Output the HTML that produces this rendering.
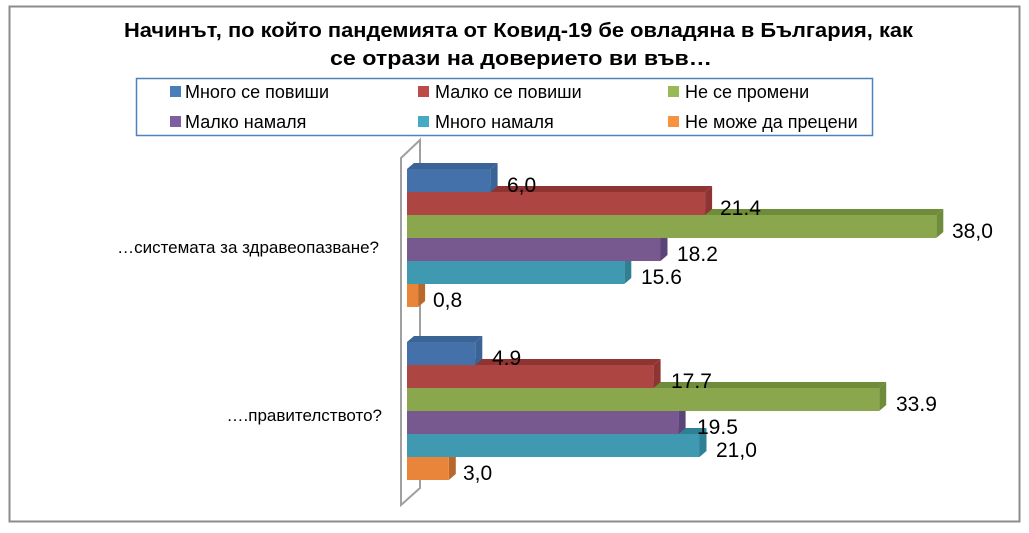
<!DOCTYPE html>
<html><head><meta charset="utf-8"><style>
body{margin:0;background:#fff;}
svg{display:block;font-family:"Liberation Sans","DejaVu Sans",sans-serif;}
</style></head><body>
<svg width="1029" height="533" viewBox="0 0 1029 533">
<rect x="9.5" y="6.5" width="1010" height="515" fill="#fff" stroke="#8c8c8c" stroke-width="2"/>
<g font-weight="bold" font-size="20" fill="#000">
<text x="124" y="37" textLength="789" lengthAdjust="spacingAndGlyphs">Начинът, по който пандемията от Ковид-19 бе овладяна в България, как</text>
<text x="330" y="65" textLength="382" lengthAdjust="spacingAndGlyphs">се отрази на доверието ви във…</text>
</g>
<rect x="136.5" y="78.5" width="736" height="57" fill="#fff" stroke="#4f81bd" stroke-width="1.5"/>
<g font-size="18" fill="#000">
<rect x="170" y="86" width="11" height="11" fill="#4a7ebb"/><text x="185" y="98">Много се повиши</text>
<rect x="418" y="86" width="11" height="11" fill="#be4b48"/><text x="435" y="98">Малко се повиши</text>
<rect x="668" y="86" width="11" height="11" fill="#98b954"/><text x="685" y="98">Не се промени</text>
<rect x="170" y="116" width="11" height="11" fill="#7d60a0"/><text x="185" y="128">Малко намаля</text>
<rect x="418" y="116" width="11" height="11" fill="#46aac5"/><text x="435" y="128">Много намаля</text>
<rect x="668" y="116" width="11" height="11" fill="#f69240"/><text x="685" y="128">Не може да прецени</text>
</g>
<polygon points="401,158 420,140 420,488 401,505" fill="#fff" stroke="#a0a0a0" stroke-width="2"/>
<g font-size="17" text-anchor="end" fill="#000">
<text x="379" y="253">…системата за здравеопазване?</text>
<text x="382" y="421">….правителството?</text>
</g>

<polygon points="407,284 414,278 425.1,278 418.1,284" fill="#b8682a"/><polygon points="418.1,284 425.1,278 425.1,301 418.1,307" fill="#b8682a"/><rect x="407" y="284" width="11.1" height="23" fill="#e9853a"/>
<polygon points="407,261 414,255 631.3,255 624.3,261" fill="#2f7f95"/><polygon points="624.3,261 631.3,255 631.3,278 624.3,284" fill="#2f7f95"/><rect x="407" y="261" width="217.3" height="23" fill="#3f99b1"/>
<polygon points="407,238 414,232 667.5,232 660.5,238" fill="#5a4478"/><polygon points="660.5,238 667.5,232 667.5,255 660.5,261" fill="#5a4478"/><rect x="407" y="238" width="253.5" height="23" fill="#77588f"/>
<polygon points="407,215 414,209 943.3,209 936.3,215" fill="#6f8c3a"/><polygon points="936.3,215 943.3,209 943.3,232 936.3,238" fill="#6f8c3a"/><rect x="407" y="215" width="529.3" height="23" fill="#8aa74e"/>
<polygon points="407,192 414,186 712.1,186 705.1,192" fill="#8e3432"/><polygon points="705.1,192 712.1,186 712.1,209 705.1,215" fill="#8e3432"/><rect x="407" y="192" width="298.1" height="23" fill="#ad4643"/>
<polygon points="407,169 414,163 497.6,163 490.6,169" fill="#3a6496"/><polygon points="490.6,169 497.6,163 497.6,186 490.6,192" fill="#3a6496"/><rect x="407" y="169" width="83.6" height="23" fill="#4471aa"/>

<polygon points="407,457 414,451 455.8,451 448.8,457" fill="#b8682a"/><polygon points="448.8,457 455.8,451 455.8,474 448.8,480" fill="#b8682a"/><rect x="407" y="457" width="41.8" height="23" fill="#e9853a"/>
<polygon points="407,434 414,428 706.5,428 699.5,434" fill="#2f7f95"/><polygon points="699.5,434 706.5,428 706.5,451 699.5,457" fill="#2f7f95"/><rect x="407" y="434" width="292.5" height="23" fill="#3f99b1"/>
<polygon points="407,411 414,405 685.6,405 678.6,411" fill="#5a4478"/><polygon points="678.6,411 685.6,405 685.6,428 678.6,434" fill="#5a4478"/><rect x="407" y="411" width="271.6" height="23" fill="#77588f"/>
<polygon points="407,388 414,382 886.2,382 879.2,388" fill="#6f8c3a"/><polygon points="879.2,388 886.2,382 886.2,405 879.2,411" fill="#6f8c3a"/><rect x="407" y="388" width="472.2" height="23" fill="#8aa74e"/>
<polygon points="407,365 414,359 660.6,359 653.6,365" fill="#8e3432"/><polygon points="653.6,365 660.6,359 660.6,382 653.6,388" fill="#8e3432"/><rect x="407" y="365" width="246.6" height="23" fill="#ad4643"/>
<polygon points="407,342 414,336 482.3,336 475.3,342" fill="#3a6496"/><polygon points="475.3,342 482.3,336 482.3,359 475.3,365" fill="#3a6496"/><rect x="407" y="342" width="68.3" height="23" fill="#4471aa"/>

<g font-size="21" fill="#000">
<text x="507" y="192">6,0</text>
<text x="720" y="215">21.4</text>
<text x="952" y="238">38,0</text>
<text x="677" y="261">18.2</text>
<text x="641" y="284">15.6</text>
<text x="433" y="307">0,8</text>
<text x="492" y="365">4.9</text>
<text x="671" y="388">17.7</text>
<text x="896" y="411">33.9</text>
<text x="697" y="434">19.5</text>
<text x="716" y="457">21,0</text>
<text x="463" y="480">3,0</text>
</g>
</svg>
</body></html>
